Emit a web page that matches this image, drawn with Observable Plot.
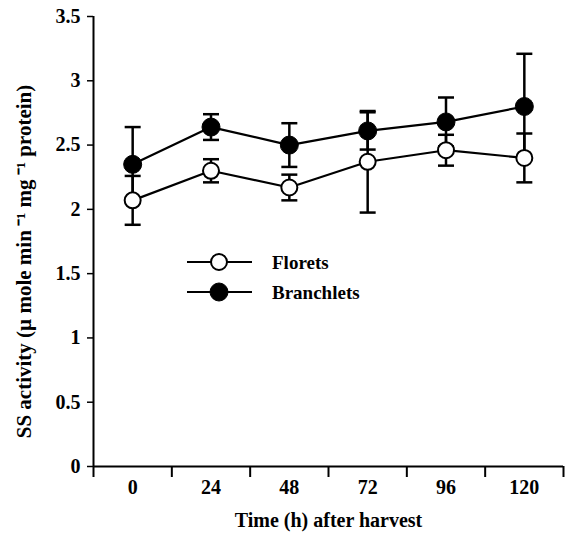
<!DOCTYPE html>
<html>
<head>
<meta charset="utf-8">
<script src="https://cdn.jsdelivr.net/npm/d3@7"></script>
<script src="https://cdn.jsdelivr.net/npm/@observablehq/plot@0.6"></script>
<style>
  html, body { margin: 0; padding: 0; background: #fff; }
  #chart svg { display: block; }
</style>
</head>
<body>
<div id="chart"></div>
<script>
// ---- data ----
const times = [0, 24, 48, 72, 96, 120];
const floretsMean = [2.07, 2.30, 2.17, 2.37, 2.46, 2.40];
const floretsErr  = [0.19, 0.09, 0.10, 0.395, 0.12, 0.19];
const branchletsMean = [2.35, 2.64, 2.50, 2.61, 2.68, 2.80];
const branchletsErr  = [0.29, 0.10, 0.17, 0.145, 0.19, 0.41];
const yTicks = [0, 0.5, 1, 1.5, 2, 2.5, 3, 3.5];
const seriesNames = ["Florets", "Branchlets"];
const xTitle = "Time (h) after harvest";
const yTitle = "SS activity (\u00b5 mole min\u2009\u207b\u00b9 mg\u2009\u207b\u00b9 protein)";

// ---- build table ----
const rows = [];
times.forEach((t, i) => {
  rows.push({series: "Florets", t, v: floretsMean[i], e: floretsErr[i]});
  rows.push({series: "Branchlets", t, v: branchletsMean[i], e: branchletsErr[i]});
});
const step = times[1] - times[0];
const xDomain = [times[0] - step / 2, times[times.length - 1] + step / 2];
const edges = times.map(t => t - step / 2).concat([times[times.length - 1] + step / 2]);

const FONT = "'Liberation Serif', 'Times New Roman', serif";
const capSymbol = {
  draw(context, size) {
    const r = Math.sqrt(size / Math.PI);
    context.moveTo(-r, 0);
    context.lineTo(r, 0);
  }
};

const chart = Plot.plot({
  width: 565,
  height: 538,
  marginLeft: 93,
  marginRight: 2,
  marginTop: 16,
  marginBottom: 72,
  style: {fontFamily: FONT, fontSize: "20px", fontWeight: "bold", color: "#000", background: "#fff"},
  x: {domain: xDomain},
  y: {domain: [0, 3.5]},
  marks: [
    // y axis
    Plot.axisY({ticks: yTicks, tickSize: 6, tickPadding: 7, tickFormat: d => String(d), label: null, strokeWidth: 1.5}),
    // x axis ticks at category boundaries
    Plot.axisX({ticks: edges, tickSize: 11, tickFormat: () => "", label: null, strokeWidth: 2}),
    // x axis labels at category centres
    Plot.axisX({ticks: times, tickSize: 0, tickPadding: 13, tickFormat: d => String(d), label: null}),
    Plot.ruleX([xDomain[0]], {y1: 0, y2: 3.5, strokeWidth: 2}),
    Plot.ruleY([0], {strokeWidth: 2}),
    // error bars
    Plot.ruleX(rows, {x: "t", y1: d => d.v - d.e, y2: d => d.v + d.e, strokeWidth: 2.5}),
    Plot.dot(rows, {x: "t", y: d => d.v - d.e, symbol: capSymbol, r: 8, stroke: "#000", strokeWidth: 2.5}),
    Plot.dot(rows, {x: "t", y: d => d.v + d.e, symbol: capSymbol, r: 8, stroke: "#000", strokeWidth: 2.5}),
    // lines
    Plot.line(rows, {x: "t", y: "v", z: "series", stroke: "#000", strokeWidth: 2.2}),
    // markers
    Plot.dot(rows.filter(d => d.series === "Florets"), {x: "t", y: "v", r: 8, fill: "#fff", stroke: "#000", strokeWidth: 2}),
    Plot.dot(rows.filter(d => d.series === "Branchlets"), {x: "t", y: "v", r: 9, fill: "#000", stroke: "#000", strokeWidth: 1}),
    // titles
    Plot.text([xTitle], {frameAnchor: "bottom", dy: 60, fontSize: 20, fontWeight: "bold"}),
    Plot.text([yTitle], {frameAnchor: "left", textAnchor: "middle", rotate: -90, dx: -69, dy: 20, fontSize: 21, fontWeight: "bold"})
  ]
});

// legend
const svg = d3.select(chart);
const leg = svg.append("g").attr("font-family", FONT).attr("font-size", 19).attr("font-weight", "bold").attr("text-anchor", "start");
seriesNames.forEach((name, i) => {
  const y = 262 + i * 30;
  leg.append("line").attr("x1", 187).attr("x2", 252).attr("y1", y).attr("y2", y)
    .attr("stroke", "#000").attr("stroke-width", 2.2);
  leg.append("circle").attr("cx", 219).attr("cy", y).attr("r", i === 0 ? 8 : 9)
    .attr("fill", i === 0 ? "#fff" : "#000").attr("stroke", "#000").attr("stroke-width", i === 0 ? 2 : 1);
  leg.append("text").attr("x", 272).attr("y", y).attr("dy", "0.35em").attr("text-anchor", "start").text(name);
});

document.getElementById("chart").appendChild(chart);
</script>
</body>
</html>
